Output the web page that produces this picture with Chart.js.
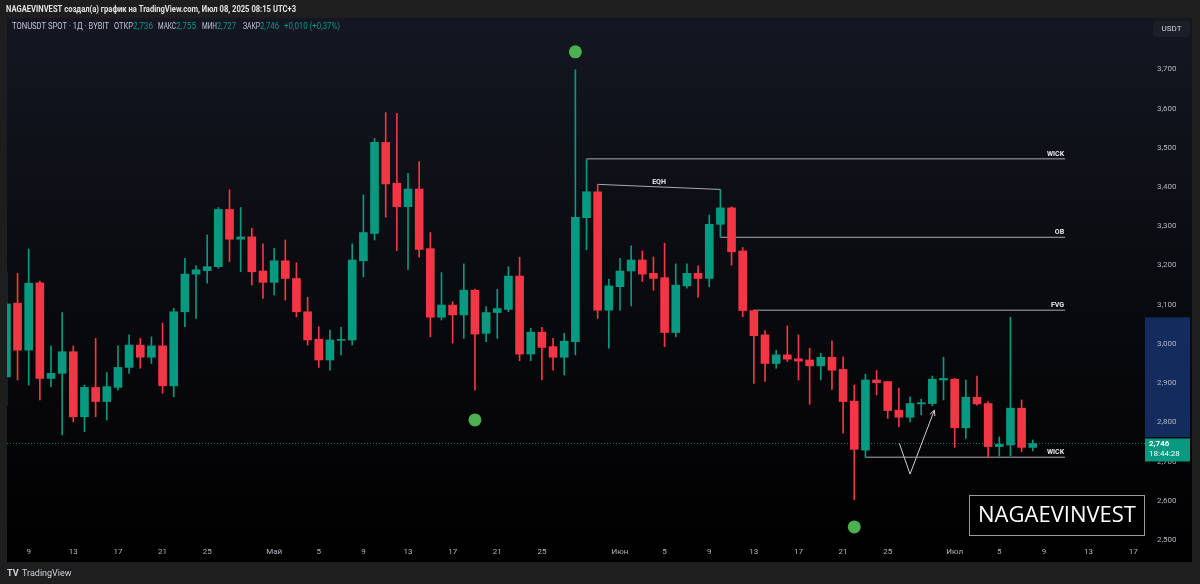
<!DOCTYPE html>
<html>
<head>
<meta charset="utf-8">
<title>TONUSDT 1Д</title>
<script src="https://cdn.jsdelivr.net/npm/chart.js@4.4.0/dist/chart.umd.min.js"></script>
<style>
  html, body { margin: 0; padding: 0; background: #1e1e1e; }
  canvas { display: block; }
</style>
</head>
<body>
<canvas id="tonChart" width="1200" height="584"></canvas>
<script>
  'use strict'
  //-------------
  // - DATA -
  //-------------
  // candles from 7 Apr 2025 to 8 Jul 2025, one per day (day 0 = 9 Apr)
  const firstDayOffset = -2;
  const opens  = [2.916,3.104,2.984,3.156,2.912,2.925,2.980,2.814,2.889,2.853,2.889,2.940,2.997,2.966,2.995,2.893,3.082,3.178,3.187,3.197,3.343,3.267,3.273,3.186,
                  3.157,3.212,3.167,3.082,3.012,2.959,3.009,3.010,3.212,3.282,3.514,3.410,3.350,3.395,3.243,3.068,3.099,3.074,3.137,3.027,3.080,3.088,3.173,2.974,3.030,2.993,2.966,3.006,3.322,3.388,3.086,
                  3.146,3.186,3.214,3.180,3.169,3.029,3.148,3.180,3.167,3.305,3.347,3.237,3.085,3.023,2.950,2.972,2.962,2.959,2.944,2.966,2.935,2.854,2.729,2.908,2.904,2.831,2.813,2.847,2.848,2.908,
                  2.910,2.786,2.864,2.848,2.738,2.742,2.836,2.736];
  const highs  = [3.184,3.180,3.242,3.160,2.995,3.080,2.995,2.895,3.014,2.927,2.995,3.023,3.014,3.018,3.053,3.091,3.218,3.200,3.278,3.348,3.393,3.348,3.295,3.255,
                  3.244,3.265,3.207,3.119,3.044,3.035,3.042,3.255,3.380,3.524,3.590,3.588,3.435,3.465,3.284,3.182,3.108,3.204,3.140,3.095,3.139,3.197,3.221,3.040,3.042,3.014,3.027,3.699,3.471,3.407,3.165,
                  3.218,3.250,3.237,3.222,3.257,3.204,3.204,3.199,3.329,3.394,3.350,3.246,3.087,3.034,2.984,3.046,3.023,2.989,2.976,3.008,2.967,2.895,2.923,2.932,2.904,2.887,2.865,2.859,2.918,2.966,
                  2.912,2.908,2.918,2.853,2.763,3.068,2.857,2.755];
  const lows   = [2.844,2.908,2.895,2.857,2.891,2.768,2.801,2.776,2.814,2.806,2.882,2.925,2.938,2.950,2.874,2.865,3.044,3.065,3.155,3.193,3.210,3.184,3.150,3.116,
                  3.125,3.112,3.069,2.997,2.940,2.933,2.972,2.997,3.171,3.265,3.323,3.238,3.190,3.221,3.018,3.061,3.002,3.014,2.882,3.006,3.014,3.082,2.957,2.957,2.908,2.933,2.921,2.972,3.240,3.065,2.989,
                  3.086,3.097,3.159,3.137,2.993,3.018,3.142,3.119,3.146,3.273,3.201,3.069,2.899,2.904,2.938,2.955,2.908,2.846,2.908,2.884,2.772,2.602,2.711,2.870,2.810,2.789,2.801,2.819,2.842,2.857,
                  2.736,2.759,2.844,2.712,2.714,2.714,2.725,2.727];
  const closes = [3.102,2.984,3.155,2.912,2.925,2.980,2.814,2.889,2.853,2.891,2.940,2.997,2.966,2.995,2.893,3.082,3.178,3.189,3.197,3.343,3.267,3.273,3.184,3.157,
                  3.212,3.167,3.082,3.010,2.959,3.010,3.011,3.214,3.284,3.514,3.408,3.350,3.395,3.241,3.068,3.099,3.074,3.137,3.025,3.080,3.090,3.173,2.974,3.030,2.991,2.966,3.007,3.323,3.388,3.086,3.148,
                  3.186,3.214,3.178,3.167,3.029,3.150,3.180,3.167,3.305,3.347,3.235,3.085,3.021,2.950,2.972,2.961,2.956,2.944,2.966,2.933,2.853,2.731,2.908,2.901,2.830,2.813,2.848,2.850,2.910,2.912,
                  2.786,2.864,2.847,2.738,2.744,2.836,2.736,2.746];

  // time axis
  const tickDays   = [0, 4, 8, 12, 16, 22, 26, 30, 34, 38, 42, 46, 53, 57, 61, 65, 69, 73, 77, 83, 87, 91, 95, 99];
  const tickLabels = ['9','13','17','21','25','Май','5','9','13','17','21','25','Июн','5','9','13','17','21','25','Июл','5','9','13','17'];
  // price axis
  const priceTicks = [2.5, 2.6, 2.7, 2.8, 2.9, 3.0, 3.1, 3.2, 3.3, 3.4, 3.5, 3.6, 3.7];

  // drawings
  const dotDays   = [40, 49, 74];
  const dotPrices = [2.806, 3.745, 2.533];
  const levelNames  = ['WICK', 'OB', 'FVG', 'WICK'];
  const levelStart  = [50, 62, 65, 75];
  const levelPrices = [3.472, 3.272, 3.086, 2.711];
  const levelEnd = 92.9;
  const eqhDays   = [51, 62];
  const eqhPrices = [3.407, 3.394];
  const arrowDays   = [78.04, 79.0, 81.18];
  const arrowPrices = [2.746, 2.668, 2.831];
  const lastPrice = 2.746;
  const bandPrices = [3.068, 2.762];

  const green = '#089981';
  const red = '#f23645';

  //-------------
  // - BUILD -
  //-------------
  var candleColors = [];
  var wickData = [];
  var bodyData = [];
  for (var i = 0; i < opens.length; i++) {
    var day = i + firstDayOffset;
    candleColors.push(closes[i] >= opens[i] ? green : red);
    wickData.push({ x: day, y: [lows[i], highs[i]] });
    bodyData.push({ x: day, y: [opens[i], closes[i]] });
  }

  const xMin = -1.945, xMax = 100.06;
  const yMin = 2.4921, yMax = 3.8288;

  var lineSets = levelNames.map(function (name, k) {
    return {
      type: 'line', order: 4, label: name,
      data: [{ x: levelStart[k], y: levelPrices[k] }, { x: levelEnd, y: levelPrices[k] }],
      borderColor: '#a8abb3', borderWidth: 1, pointRadius: 0
    };
  });

  const fmt = v => v.toFixed(3).replace('.', ',');

  //-------------
  // - PLUGIN: frame, texts, labels -
  //-------------
  const frame = {
    id: 'frame',
    beforeDraw(chart) {
      const { ctx, chartArea: a, scales: { y } } = chart;
      ctx.save();
      ctx.fillStyle = '#1e1e1e';
      ctx.fillRect(0, 0, chart.width, chart.height);
      var g = ctx.createLinearGradient(0, 18, 0, 562);
      g.addColorStop(0, '#141722');
      g.addColorStop(0.45, '#0b0c11');
      g.addColorStop(1, '#000000');
      ctx.fillStyle = g;
      ctx.fillRect(7, 18, 1185, 544);
      // highlighted range on the price axis
      var t = y.getPixelForValue(bandPrices[0]), b = y.getPixelForValue(bandPrices[1]);
      ctx.fillStyle = '#142b5e';
      ctx.fillRect(a.right, t, 45, b - t);
      ctx.restore();
    },
    afterDraw(chart) {
      const { ctx, chartArea: a, scales: { x, y } } = chart;
      ctx.save();
      ctx.textBaseline = 'middle';

      // title bar
      ctx.font = 'bold 9px Roboto';
      ctx.fillStyle = '#e3e3e3';
      ctx.fillText('NAGAEVINVEST создал(а) график на TradingView.com, Июл 08, 2025 08:15 UTC+3', 6, 10, 290);

      // OHLC legend
      var legend = [
        ['TONUSDT SPOT · 1Д · BYBIT', 12, '#c3c6ce', 97],
        ['ОТКР', 114, '#c3c6ce', 19], [fmt(opens[opens.length - 1]), 133, green, 20],
        ['МАКС', 158, '#c3c6ce', 18], [fmt(highs[highs.length - 1]), 176, green, 20],
        ['МИН', 202, '#c3c6ce', 15], [fmt(lows[lows.length - 1]), 217, green, 19],
        ['ЗАКР', 243, '#c3c6ce', 17], [fmt(closes[closes.length - 1]), 260, green, 19],
        ['+0,010 (+0,37%)', 284, green, 56]
      ];
      ctx.font = '9px Roboto';
      legend.forEach(function (l) {
        ctx.fillStyle = l[2];
        ctx.fillText(l[0], l[1], 27, l[3]);
      });

      // USDT button
      ctx.fillStyle = '#1c1f28';
      ctx.beginPath();
      ctx.roundRect(1153, 21, 37, 16, 3);
      ctx.fill();
      ctx.fillStyle = '#d1d4dc';
      ctx.font = '8px Roboto';
      ctx.textAlign = 'center';
      ctx.fillText('USDT', 1171.5, 29);

      // level labels
      ctx.font = 'bold 7px Roboto';
      ctx.fillStyle = '#e6e6e6';
      ctx.textAlign = 'right';
      levelNames.forEach(function (name, k) {
        ctx.fillText(name, x.getPixelForValue(levelEnd) - 1, y.getPixelForValue(levelPrices[k]) - 5);
      });
      ctx.textAlign = 'center';
      var ex = (x.getPixelForValue(eqhDays[0]) + x.getPixelForValue(eqhDays[1])) / 2;
      var ey = (y.getPixelForValue(eqhPrices[0]) + y.getPixelForValue(eqhPrices[1])) / 2;
      ctx.fillText('EQH', ex, ey - 5);

      // arrow head
      var n = arrowDays.length;
      var x1 = x.getPixelForValue(arrowDays[n - 2]), y1 = y.getPixelForValue(arrowPrices[n - 2]);
      var x2 = x.getPixelForValue(arrowDays[n - 1]), y2 = y.getPixelForValue(arrowPrices[n - 1]);
      var ang = Math.atan2(y2 - y1, x2 - x1);
      ctx.strokeStyle = '#d0d0d0';
      ctx.lineWidth = 1;
      ctx.beginPath();
      ctx.moveTo(x2 - 6 * Math.cos(ang - 0.45), y2 - 6 * Math.sin(ang - 0.45));
      ctx.lineTo(x2, y2);
      ctx.lineTo(x2 - 6 * Math.cos(ang + 0.45), y2 - 6 * Math.sin(ang + 0.45));
      ctx.stroke();

      // watermark box
      ctx.fillStyle = '#000000';
      ctx.fillRect(969.5, 495.5, 175, 40);
      ctx.strokeStyle = '#9a9a9a';
      ctx.strokeRect(969.5, 495.5, 175, 40);
      ctx.fillStyle = '#ffffff';
      ctx.font = '22px "Open Sans"';
      ctx.fillText('NAGAEVINVEST', 1057, 516, 158);

      // last price label
      var py = y.getPixelForValue(lastPrice);
      ctx.fillStyle = green;
      ctx.fillRect(a.right, py - 5, 45, 23);
      ctx.fillStyle = '#ffffff';
      ctx.textAlign = 'left';
      ctx.font = 'bold 8px Roboto';
      ctx.fillText(fmt(lastPrice), a.right + 4, py + 1);
      ctx.font = '8px Roboto';
      ctx.fillText('18:44:28', a.right + 4, py + 11);

      // footer
      ctx.fillStyle = '#d1d4dc';
      ctx.font = 'bold 9px Roboto';
      ctx.fillText('TV', 7, 574);
      ctx.font = '9px Roboto';
      ctx.fillText('TradingView', 22, 574);
      ctx.restore();
    }
  };

  //--------------------
  //-  Candle Chart  -
  //--------------------
  const config = {
    type: 'bar',
    data: {
      datasets: [{
        type: 'line', order: 5,
        data: [{ x: xMin, y: lastPrice }, { x: xMax, y: lastPrice }],
        borderColor: 'rgba(8,153,129,0.75)', borderWidth: 1, borderDash: [1, 2], pointRadius: 0
      }].concat(lineSets).concat([{
        type: 'line', order: 4,
        data: eqhDays.map((d, k) => ({ x: d, y: eqhPrices[k] })),
        borderColor: '#a8abb3', borderWidth: 1, pointRadius: 0
      }, {
        type: 'line', order: 4,
        data: arrowDays.map((d, k) => ({ x: d, y: arrowPrices[k] })),
        borderColor: '#d0d0d0', borderWidth: 1, pointRadius: 0
      }, {
        label: 'wick', order: 3, grouped: false,
        data: wickData, backgroundColor: candleColors,
        barThickness: 1, borderWidth: 0
      }, {
        label: 'body', order: 2, grouped: false,
        data: bodyData, backgroundColor: candleColors,
        barThickness: 8, borderWidth: 0, minBarLength: 1
      }, {
        type: 'line', order: 1, showLine: false,
        data: dotDays.map((d, k) => ({ x: d, y: dotPrices[k] })),
        pointRadius: 6.5, pointBackgroundColor: '#4caf50', pointBorderWidth: 0
      }])
    },
    options: {
      responsive: false,
      animation: false,
      layout: { padding: { left: 7, right: 8, top: 19, bottom: 22 } },
      plugins: { legend: { display: false }, tooltip: { enabled: false } },
      scales: {
        x: {
          type: 'linear', min: xMin, max: xMax, offset: false,
          grid: { display: false, drawTicks: false }, border: { display: false },
          afterBuildTicks: s => { s.ticks = tickDays.map(v => ({ value: v })); },
          afterFit: s => { s.height = 19; },
          ticks: {
            autoSkip: false, maxRotation: 0, padding: 4, color: '#b2b5be',
            font: { family: 'Roboto', size: 8 },
            callback: v => tickLabels[tickDays.indexOf(v)]
          }
        },
        y: {
          type: 'linear', position: 'right', min: yMin, max: yMax,
          grid: { display: false, drawTicks: false }, border: { display: false },
          afterBuildTicks: s => { s.ticks = priceTicks.map(v => ({ value: v })); },
          afterFit: s => { s.width = 47; },
          ticks: {
            padding: 12, color: '#b2b5be', autoSkip: false,
            font: { family: 'Roboto', size: 8 },
            callback: v => fmt(v)
          }
        }
      }
    },
    plugins: [frame]
  };

  const tonChart = new Chart(document.getElementById('tonChart'), config);
</script>
</body>
</html>
